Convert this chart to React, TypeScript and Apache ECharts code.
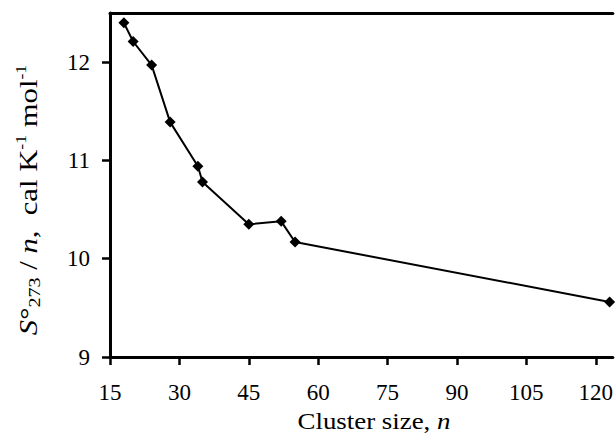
import React, { useEffect, useRef } from "react";
import * as echarts from "echarts";

const clusterSize = [18, 20, 24, 28, 34, 35, 45, 52, 55, 123];
const entropyPerN = [12.4, 12.21, 11.97, 11.39, 10.94, 10.78, 10.35, 10.38, 10.17, 9.56];
const xTicks = [15, 30, 45, 60, 75, 90, 105, 120];
const yTicks = [9, 10, 11, 12];

const FONT = "Liberation Serif";

export default function App() {
  const ref = useRef<HTMLDivElement>(null);
  useEffect(() => {
    if (!ref.current) return;
    const chart = echarts.init(ref.current, null, { renderer: "svg" });
    const noTicks = { show: false };
    const base = { fontFamily: FONT, fontSize: 23, color: "#000" };
    const big = { fontFamily: FONT, fontSize: 26, color: "#000", lineHeight: 30, verticalAlign: "middle" };
    chart.setOption({
      animation: false,
      backgroundColor: "#fff",
      textStyle: { fontFamily: FONT },
      grid: {
        left: 110,
        top: 13,
        right: 0,
        bottom: 80,
        show: false,
      },
      xAxis: [
        {
          type: "value",
          min: 15,
          max: 123.7,
          interval: 15,
          axisLine: { show: true, lineStyle: { color: "#000", width: 3 } },
          axisTick: { show: true, length: 8, inside: false, customValues: xTicks, lineStyle: { color: "#000", width: 2.5 } },
          axisLabel: { ...base, margin: 24, customValues: xTicks },
          splitLine: { show: false },
        },
        {
          type: "value",
          position: "top",
          min: 15,
          max: 123.7,
          axisLine: { show: true, onZero: false, lineStyle: { color: "#000", width: 3 } },
          axisTick: noTicks,
          axisLabel: noTicks,
          splitLine: noTicks,
        },
      ],
      yAxis: {
        type: "value",
        min: 9,
        max: 12.5,
        interval: 1,
        axisLine: { show: true, lineStyle: { color: "#000", width: 3 } },
        axisTick: { show: true, length: 8, inside: false, customValues: yTicks, lineStyle: { color: "#000", width: 2.5 } },
        axisLabel: { ...base, margin: 20, customValues: yTicks },
        splitLine: { show: false },
      },
      graphic: [
        {
          type: "text",
          x: 374,
          y: 421,
          scaleX: 1.12,
          style: {
            text: "{a|Cluster size, }{i|n}",
            align: "center",
            verticalAlign: "middle",
            rich: {
              a: { fontFamily: FONT, fontSize: 24, color: "#000", lineHeight: 26 },
              i: { fontFamily: FONT, fontSize: 24, fontStyle: "italic", color: "#000", lineHeight: 26 },
            },
          },
        },
        {
          type: "text",
          x: 28,
          y: 200,
          rotation: Math.PI / 2,
          scaleX: 1.18,
          style: {
            text: "{s|S}{deg|°}{sub|273}{n| / }{i|n}{n|,  cal K}{sup|-1}{n| mol}{sup|-1}",
            align: "center",
            verticalAlign: "middle",
            rich: {
              s: { ...big, fontStyle: "italic" },
              deg: { ...big },
              n: { ...big },
              i: { ...big, fontStyle: "italic" },
              sub: { fontFamily: FONT, fontSize: 17, color: "#000", verticalAlign: "bottom", lineHeight: 17 },
              sup: { fontFamily: FONT, fontSize: 15, color: "#000", verticalAlign: "top", lineHeight: 15 },
            },
          },
        },
      ],
      series: [
        {
          type: "line",
          data: clusterSize.map((x, i) => [x, entropyPerN[i]]),
          symbol: "diamond",
          symbolSize: [11, 11],
          itemStyle: { color: "#000" },
          lineStyle: { color: "#000", width: 2 },
          clip: false,
        },
      ],
    });
    return () => chart.dispose();
  }, []);
  return (
    <div
      ref={ref}
      style={{ position: "fixed", left: 0, top: 0, width: 616, height: 437 }}
    />
  );
}
